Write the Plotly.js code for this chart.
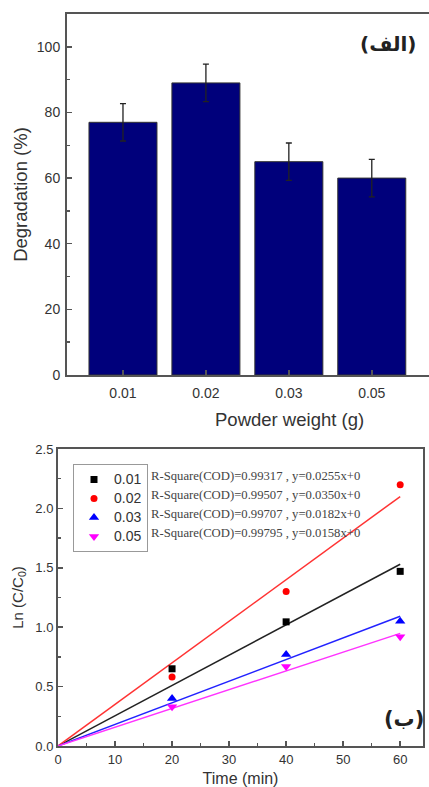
<!DOCTYPE html>
<html>
<head>
<meta charset="utf-8">
<script src="https://cdn.plot.ly/plotly-3.0.1.min.js"></script>
<style>html,body{margin:0;padding:0;background:#fff;}#chart{width:429px;height:787px;}</style>
</head>
<body>
<div id="chart"></div>
<script>
// ---- Data: panel (الف) ----
const weights = ["0.01", "0.02", "0.03", "0.05"];
const degradation = [77, 89, 65, 60];
const degradationErr = [5.7, 5.7, 5.7, 5.7];

// ---- Data: panel (ب) ----
const seriesNames = ["0.01", "0.02", "0.03", "0.05"];
const timeMin = [0, 20, 40, 60];
const ln001 = [0, 0.65, 1.045, 1.47];
const ln002 = [0, 0.58, 1.30, 2.20];
const ln003 = [0, 0.40, 0.77, 1.05];
const ln005 = [0, 0.33, 0.67, 0.92];
const fitTime = [0, 60];
const fit001 = [0, 1.53];
const fit002 = [0, 2.10];
const fit003 = [0, 1.092];
const fit005 = [0, 0.948];
const fitLabels = [
  "R-Square(COD)=0.99317 , y=0.0255x+0",
  "R-Square(COD)=0.99507 , y=0.0350x+0",
  "R-Square(COD)=0.99707 , y=0.0182x+0",
  "R-Square(COD)=0.99795 , y=0.0158x+0"
];

const W = 429, H = 787;
const px = v => v / W;
const py = v => (H - v) / H;
const sans = "Liberation Sans, Arial, sans-serif";
const axisCol = "#555";
const txtCol = "#333";

const pointSets = [ln001, ln002, ln003, ln005];
const fitSets = [fit001, fit002, fit003, fit005];
const colors = ["#000000", "#ff0000", "#0000ff", "#ff00ff"];
const symbols = ["square", "circle", "triangle-up", "triangle-down"];
const fitColors = ["#222222", "#ff3333", "#2222ff", "#ff33ff"];

const traces = [{
  type: "bar", x: weights, y: degradation, xaxis: "x", yaxis: "y",
  width: 0.82,
  marker: {color: "#00007b", line: {color: "#333", width: 1}},
  error_y: {type: "data", array: degradationErr, visible: true, color: "#222", thickness: 1.3, width: 3},
  showlegend: false, hoverinfo: "skip"
}];

fitSets.forEach((f, i) => {
  traces.push({type: "scatter", mode: "lines", x: fitTime, y: f, xaxis: "x2", yaxis: "y2",
    line: {color: fitColors[i], width: 1.5}, showlegend: false, hoverinfo: "skip"});
});
pointSets.forEach((p, i) => {
  traces.push({type: "scatter", mode: "markers",
    name: '<span style="font-size:14px">' + seriesNames[i] + '</span>',
    x: timeMin.slice(1), y: p.slice(1), xaxis: "x2", yaxis: "y2",
    marker: {color: colors[i], symbol: symbols[i], size: i >= 2 ? 9 : 7},
    hoverinfo: "skip"});
});

const annotations = [
  {text: "<b>(الف)</b>", xref: "paper", yref: "paper", x: px(388), y: py(44), xanchor: "center", yanchor: "middle",
   showarrow: false, font: {family: "DejaVu Sans", size: 20, color: "#222"}},
  {text: "<b>(ب)</b>", xref: "paper", yref: "paper", x: px(404), y: py(719), xanchor: "center", yanchor: "middle",
   showarrow: false, font: {family: "DejaVu Sans", size: 21, color: "#222"}},
  {text: "Powder weight (g)", xref: "paper", yref: "paper", x: px(289), y: py(419), xanchor: "center", yanchor: "middle",
   showarrow: false, font: {family: sans, size: 18.5, color: txtCol}}
];
const rowY = [476, 495, 514, 533];
fitLabels.forEach((t, i) => {
  annotations.push({text: t, xref: "paper", yref: "paper", x: px(149), y: py(rowY[i]), xanchor: "left", yanchor: "middle",
    showarrow: false, font: {family: "Liberation Serif, Times New Roman, serif", size: 12.7, color: "#444"}});
});

const axBase = {
  showgrid: false, zeroline: false, showline: true, linecolor: axisCol, linewidth: 2, mirror: true,
  ticks: "inside", ticklen: 5, tickwidth: 1.5, tickcolor: axisCol,
  tickfont: {family: sans, size: 14, color: txtCol}
};

const layout = {
  width: W, height: H,
  margin: {l: 0, r: 0, t: 0, b: 0},
  paper_bgcolor: "#fff", plot_bgcolor: "#fff",
  font: {family: sans, color: txtCol},
  showlegend: true,
  legend: {x: px(73), y: py(464), xanchor: "left", yanchor: "top",
    bgcolor: "rgba(255,255,255,0)", bordercolor: "#999", borderwidth: 1,
    font: {family: sans, size: 11, color: txtCol}, tracegroupgap: 0, itemwidth: 30},
  xaxis: Object.assign({}, axBase, {
    domain: [px(67), 1], anchor: "y", type: "category", range: [-0.675, 3.69],
    ticklabelstandoff: 4
  }),
  yaxis: Object.assign({}, axBase, {
    domain: [py(375), py(14)], anchor: "x", range: [0, 110], tickvals: [0, 20, 40, 60, 80, 100],
    minor: {tickvals: [10, 30, 50, 70, 90], ticks: "inside", ticklen: 3, tickcolor: axisCol},
    ticklabelstandoff: 2,
    title: {text: "Degradation (%)", font: {family: sans, size: 18.5, color: txtCol}, standoff: 4}
  }),
  xaxis2: Object.assign({}, axBase, {
    domain: [px(58), px(423)], anchor: "y2", range: [0, 64], tickvals: [0, 10, 20, 30, 40, 50, 60],
    minor: {tickvals: [5, 15, 25, 35, 45, 55], ticks: "inside", ticklen: 3, tickcolor: axisCol},
    tickfont: {family: sans, size: 13, color: txtCol},
    title: {text: "Time (min)", font: {family: sans, size: 16, color: txtCol}, standoff: 13}
  }),
  yaxis2: Object.assign({}, axBase, {
    domain: [py(746), py(449)], anchor: "x2", range: [0, 2.5], tickvals: [0, 0.5, 1, 1.5, 2, 2.5],
    ticktext: ["0.0", "0.5", "1.0", "1.5", "2.0", "2.5"],
    minor: {tickvals: [0.25, 0.75, 1.25, 1.75, 2.25], ticks: "inside", ticklen: 3, tickcolor: axisCol},
    tickfont: {family: sans, size: 13, color: txtCol},
    title: {text: "Ln (C/C<sub>0</sub>)", font: {family: sans, size: 15, color: txtCol}, standoff: 8}
  }),
  annotations: annotations
};

Plotly.newPlot("chart", traces, layout, {staticPlot: true, displayModeBar: false});
</script>
</body>
</html>
